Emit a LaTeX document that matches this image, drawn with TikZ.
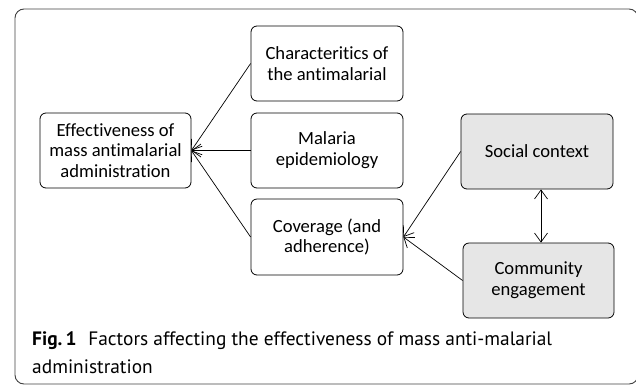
\documentclass[tikz,border=0pt]{standalone}
\usepackage{fontspec}
\setmainfont{Carlito}[RawFeature=-liga]
\newfontfamily\capfont{PT Sans}
\usetikzlibrary{arrows.meta}
\definecolor{boxgray}{HTML}{E6E6E6}
\definecolor{framegray}{HTML}{404040}
\tikzset{
  box/.style={draw=black, line width=0.8pt, rounded corners=6pt, align=center,
    inner sep=2pt, font=\fontsize{18.6}{20.8}\selectfont},
  wbox/.style={box, fill=white},
  gbox/.style={box, fill=boxgray},
  arr/.style={line width=0.7pt, -{Straight Barb[length=9pt,width=13pt,line width=0.7pt]}},
  dblarr/.style={line width=0.7pt, {Straight Barb[length=9pt,width=13pt,line width=0.7pt]}-{Straight Barb[length=9pt,width=13pt,line width=0.7pt]}},
}
\begin{document}
\begin{tikzpicture}[x=1pt,y=-1pt]
\useasboundingbox (0,0) rectangle (636,386);
\clip (0,0) rectangle (636,386);
\draw[framegray, line width=0.9pt, rounded corners=9pt] (15,9) rectangle (638,384);

\node[wbox, minimum width=151pt, minimum height=75pt] (eff) at (115.5,150.5) {Effectiveness of\\mass antimalarial\\administration};
\node[wbox, minimum width=152pt, minimum height=75pt] (char) at (327,63.5) {Characteritics of\\the antimalarial};
\node[wbox, minimum width=152pt, minimum height=75pt] (mal) at (327,150.5) {Malaria\\epidemiology};
\node[wbox, minimum width=152pt, minimum height=76pt] (cov) at (327,237) {Coverage (and\\adherence)};
\node[gbox, minimum width=152pt, minimum height=75pt] (soc) at (537,151.5) {Social context};
\node[gbox, minimum width=151pt, minimum height=75pt] (com) at (538.5,280.5) {Community\\engagement};

\draw[arr] (char.west) -- (eff.east);
\draw[arr] (mal.west) -- (eff.east);
\draw[arr] (cov.west) -- (eff.east);
\draw[arr] (soc.west) -- (cov.east);
\draw[arr] (com.west) -- (cov.east);
\draw[dblarr] ([xshift=4pt]soc.south) -- ([xshift=4pt]soc.south |- com.north);

\node[anchor=base west, align=left, inner sep=0pt,
  font=\capfont\fontsize{19.4}{28}\selectfont] (caption) at (32,373)
  {\textbf{Fig.\,1}\hspace{0.6em}Factors affecting the effectiveness of mass anti-malarial\\administration};
\end{tikzpicture}
\end{document}
